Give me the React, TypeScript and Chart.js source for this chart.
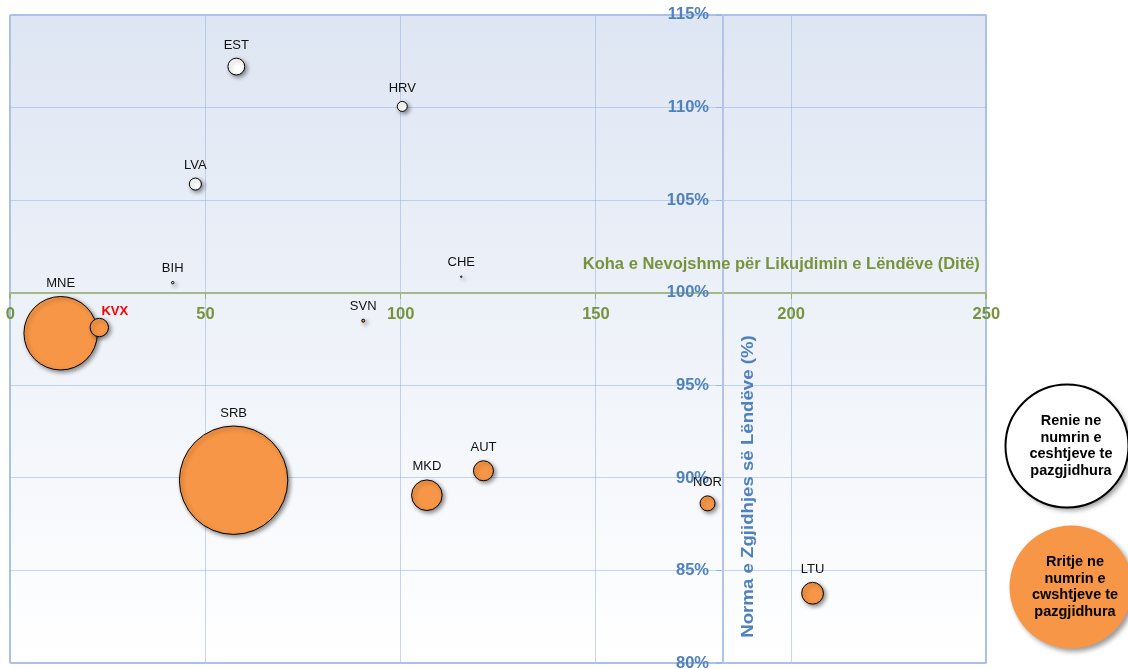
import React, { useEffect, useRef } from "react";
import { Chart, registerables } from "chart.js";

Chart.register(...registerables);

// Courts with a decrease in unresolved cases (white bubbles)
const decreaseCodes = ["EST", "HRV", "LVA", "BIH", "CHE"];
const decreaseDays = [57.9, 100.4, 47.4, 41.6, 115.5];
const decreaseRate = [112.2, 110.05, 105.86, 100.54, 100.86];
const decreaseSize = [2.4, 0.85, 1.23, 0.05, 0.02];

// Courts with an increase in unresolved cases (orange bubbles)
const increaseCodes = ["MNE", "KVX", "SVN", "SRB", "MKD", "AUT", "NOR", "LTU"];
const increaseDays = [12.9, 22.8, 90.4, 57.2, 106.7, 121.2, 178.6, 205.5];
const increaseRate = [97.81, 98.12, 98.49, 89.88, 89.07, 90.39, 88.63, 83.78];
const increaseSize = [45.9, 2.88, 0.077, 100, 7.97, 3.4, 1.91, 4.05];

const xTicks = [0, 50, 100, 150, 200, 250];
const yTicks = [80, 85, 90, 95, 100, 105, 110, 115];
const xAxisAt = 100; // clearance rate where the horizontal axis crosses
const yAxisAt = 182.5; // disposition time where the vertical axis crosses

const xTitle = "Koha e Nevojshme për Likujdimin e Lëndëve (Ditë)";
const yTitle = "Norma e Zgjidhjes së Lëndëve (%)";
const legendDecrease = ["Renie ne", "numrin e", "ceshtjeve te", "pazgjidhura"];
const legendIncrease = ["Rritje ne", "numrin e", "cwshtjeve te", "pazgjidhura"];
const highlighted = "KVX";

const FONT = "'Liberation Sans', Arial, sans-serif";
const ORANGE = "#F79646";
const GREEN = "#77933C";
const BLUE = "#4F81BD";
const GRID = "rgba(150,180,230,0.55)";
const FRAME = "#ABC2E8";
const MAX_RADIUS = 54.2;
const Y_LABEL_GAP = "   "; // keeps the percentage labels clear of the axis ticks

const bubbleRadius = (size: number) => MAX_RADIUS * Math.sqrt(size / 100);

const toPoints = (xs: number[], ys: number[], sizes: number[]) =>
  xs.map((x, i) => ({ x, y: ys[i], r: bubbleRadius(sizes[i]) }));

const noScalePadding = (s: any) => {
  s.paddingLeft = 0;
  s.paddingRight = 0;
  s.paddingTop = 0;
  s.paddingBottom = 0;
};

// outermost grid lines frame the plot area a little heavier
const isEdge = (ctx: any, count: number) => ctx.index === 0 || ctx.index === count - 1;

const backgroundPlugin = {
  id: "plotBackground",
  beforeDraw(chart: any) {
    const { ctx, chartArea: a } = chart;
    const g = ctx.createLinearGradient(0, a.top, 0, a.bottom);
    g.addColorStop(0, "#DEE6F3");
    g.addColorStop(1, "#FFFFFF");
    ctx.save();
    ctx.fillStyle = g;
    ctx.fillRect(a.left, a.top, a.right - a.left, a.bottom - a.top);
    ctx.restore();
  },
};

const bubbleDecor = {
  id: "bubbleDecor",
  beforeDatasetsDraw(chart: any) {
    const { ctx } = chart;
    ctx.save();
    ctx.shadowColor = "rgba(0,0,0,0.45)";
    ctx.shadowBlur = 4;
    ctx.shadowOffsetX = 2;
    ctx.shadowOffsetY = 2;
  },
  afterDatasetsDraw(chart: any) {
    const { ctx } = chart;
    ctx.restore();
    chart.data.datasets.forEach((ds: any, di: number) => {
      const meta = chart.getDatasetMeta(di);
      meta.data.forEach((el: any, i: number) => {
        const code = ds.codes[i];
        const r = ds.data[i].r;
        ctx.save();
        ctx.textAlign = "center";
        ctx.textBaseline = "middle";
        if (code === highlighted) {
          ctx.font = `bold 13px ${FONT}`;
          ctx.fillStyle = "#FF0000";
          ctx.fillText(code, el.x + 15.5, el.y - 16.5);
        } else {
          ctx.font = `13px ${FONT}`;
          ctx.fillStyle = "#111111";
          ctx.fillText(code, el.x, el.y - Math.max(r, 1.5) - 13);
        }
        ctx.restore();
      });
    });
  },
};

const axisTitles = {
  id: "axisTitles",
  afterDraw(chart: any) {
    const { ctx, chartArea: a, scales } = chart;
    const axisY = scales.y.getPixelForValue(xAxisAt);
    const axisX = scales.x.getPixelForValue(yAxisAt);
    ctx.save();
    ctx.font = `bold 16.5px ${FONT}`;
    ctx.fillStyle = GREEN;
    ctx.textAlign = "right";
    ctx.textBaseline = "middle";
    ctx.fillText(xTitle, a.right - 6.5, axisY - 28);
    ctx.restore();

    ctx.save();
    ctx.translate(axisX + 26, a.bottom - 25.5);
    ctx.rotate(-Math.PI / 2);
    ctx.scale(1.13, 1);
    ctx.font = `bold 16.5px ${FONT}`;
    ctx.fillStyle = BLUE;
    ctx.textAlign = "left";
    ctx.textBaseline = "middle";
    ctx.fillText(yTitle, 0, 0);
    ctx.restore();
  },
};

const bubbleLegend = {
  id: "bubbleLegend",
  afterDraw(chart: any) {
    const { ctx } = chart;
    const items = [
      { cx: 1067, cy: 446, fill: "#FFFFFF", stroke: "#000000", lines: legendDecrease, tx: 1071 },
      { cx: 1071, cy: 587, fill: ORANGE, stroke: null, lines: legendIncrease, tx: 1075 },
    ];
    items.forEach((it) => {
      ctx.save();
      ctx.shadowColor = "rgba(0,0,0,0.4)";
      ctx.shadowBlur = 5;
      ctx.shadowOffsetX = 3;
      ctx.shadowOffsetY = 3;
      ctx.beginPath();
      ctx.arc(it.cx, it.cy, 61.5, 0, Math.PI * 2);
      ctx.fillStyle = it.fill;
      ctx.fill();
      ctx.shadowColor = "transparent";
      if (it.stroke) {
        ctx.lineWidth = 2;
        ctx.strokeStyle = it.stroke;
        ctx.stroke();
      }
      ctx.font = `bold 14.5px ${FONT}`;
      ctx.fillStyle = "#000000";
      ctx.textAlign = "center";
      ctx.textBaseline = "middle";
      const lh = 16.7;
      const start = it.cy - ((it.lines.length - 1) * lh) / 2;
      it.lines.forEach((line, k) => ctx.fillText(line, it.tx, start + k * lh));
      ctx.restore();
    });
  },
};

export default function App() {
  const canvasRef = useRef<HTMLCanvasElement | null>(null);

  useEffect(() => {
    document.body.style.margin = "0";
    const canvas = canvasRef.current;
    if (!canvas) return;
    const chart = new Chart(canvas, {
      type: "bubble",
      data: {
        datasets: [
          {
            label: legendDecrease.join(" "),
            codes: decreaseCodes,
            data: toPoints(decreaseDays, decreaseRate, decreaseSize),
            backgroundColor: "#FFFFFF",
            borderColor: "#000000",
            borderWidth: 1,
          } as any,
          {
            label: legendIncrease.join(" "),
            codes: increaseCodes,
            data: toPoints(increaseDays, increaseRate, increaseSize),
            backgroundColor: ORANGE,
            borderColor: "#000000",
            borderWidth: 1,
          } as any,
        ],
      },
      options: {
        responsive: false,
        animation: false,
        events: [],
        layout: { autoPadding: false, padding: { left: 10.3, top: 14.7, right: 141.7, bottom: 26.7 } },
        plugins: { legend: { display: false }, tooltip: { enabled: false } },
        scales: {
          x: {
            type: "linear",
            min: 0,
            max: 250,
            position: { y: xAxisAt } as any,
            afterBuildTicks: (s: any) => {
              s.ticks = xTicks.map((value) => ({ value }));
            },
            afterFit: noScalePadding,
            ticks: {
              color: GREEN,
              font: { family: FONT, size: 16.5, weight: "bold" },
              padding: 6.5,
              maxRotation: 0,
              autoSkip: false,
              callback: (v: any) => String(v),
            },
            grid: {
              color: (c: any) => (isEdge(c, xTicks.length) ? FRAME : GRID),
              lineWidth: (c: any) => (isEdge(c, xTicks.length) ? 2 : 1),
              tickColor: "#9BB27A",
              tickLength: 5,
            },
            border: { color: "#A3B987", width: 2 },
          },
          y: {
            type: "linear",
            min: 80,
            max: 115,
            position: { x: yAxisAt } as any,
            afterBuildTicks: (s: any) => {
              s.ticks = yTicks.map((value) => ({ value }));
            },
            afterFit: noScalePadding,
            ticks: {
              color: BLUE,
              font: { family: FONT, size: 16.5, weight: "bold" },
              padding: 9,
              autoSkip: false,
              callback: (v: any) => `${v}%${Y_LABEL_GAP}`,
            },
            grid: {
              color: (c: any) => (isEdge(c, yTicks.length) ? FRAME : GRID),
              lineWidth: (c: any) => (isEdge(c, yTicks.length) ? 2 : 1),
              tickColor: "#9FB8E0",
              tickLength: 6,
            },
            border: { color: "#B0C5E8", width: 2 },
          },
        },
      },
      plugins: [backgroundPlugin, bubbleDecor, axisTitles, bubbleLegend],
    } as any);
    return () => chart.destroy();
  }, []);

  return (
    <div style={{ position: "fixed", left: 0, top: 0, width: 1128, height: 669, overflow: "hidden", background: "#FFFFFF" }}>
      <canvas ref={canvasRef} width={1128} height={690} style={{ display: "block" }} />
    </div>
  );
}
